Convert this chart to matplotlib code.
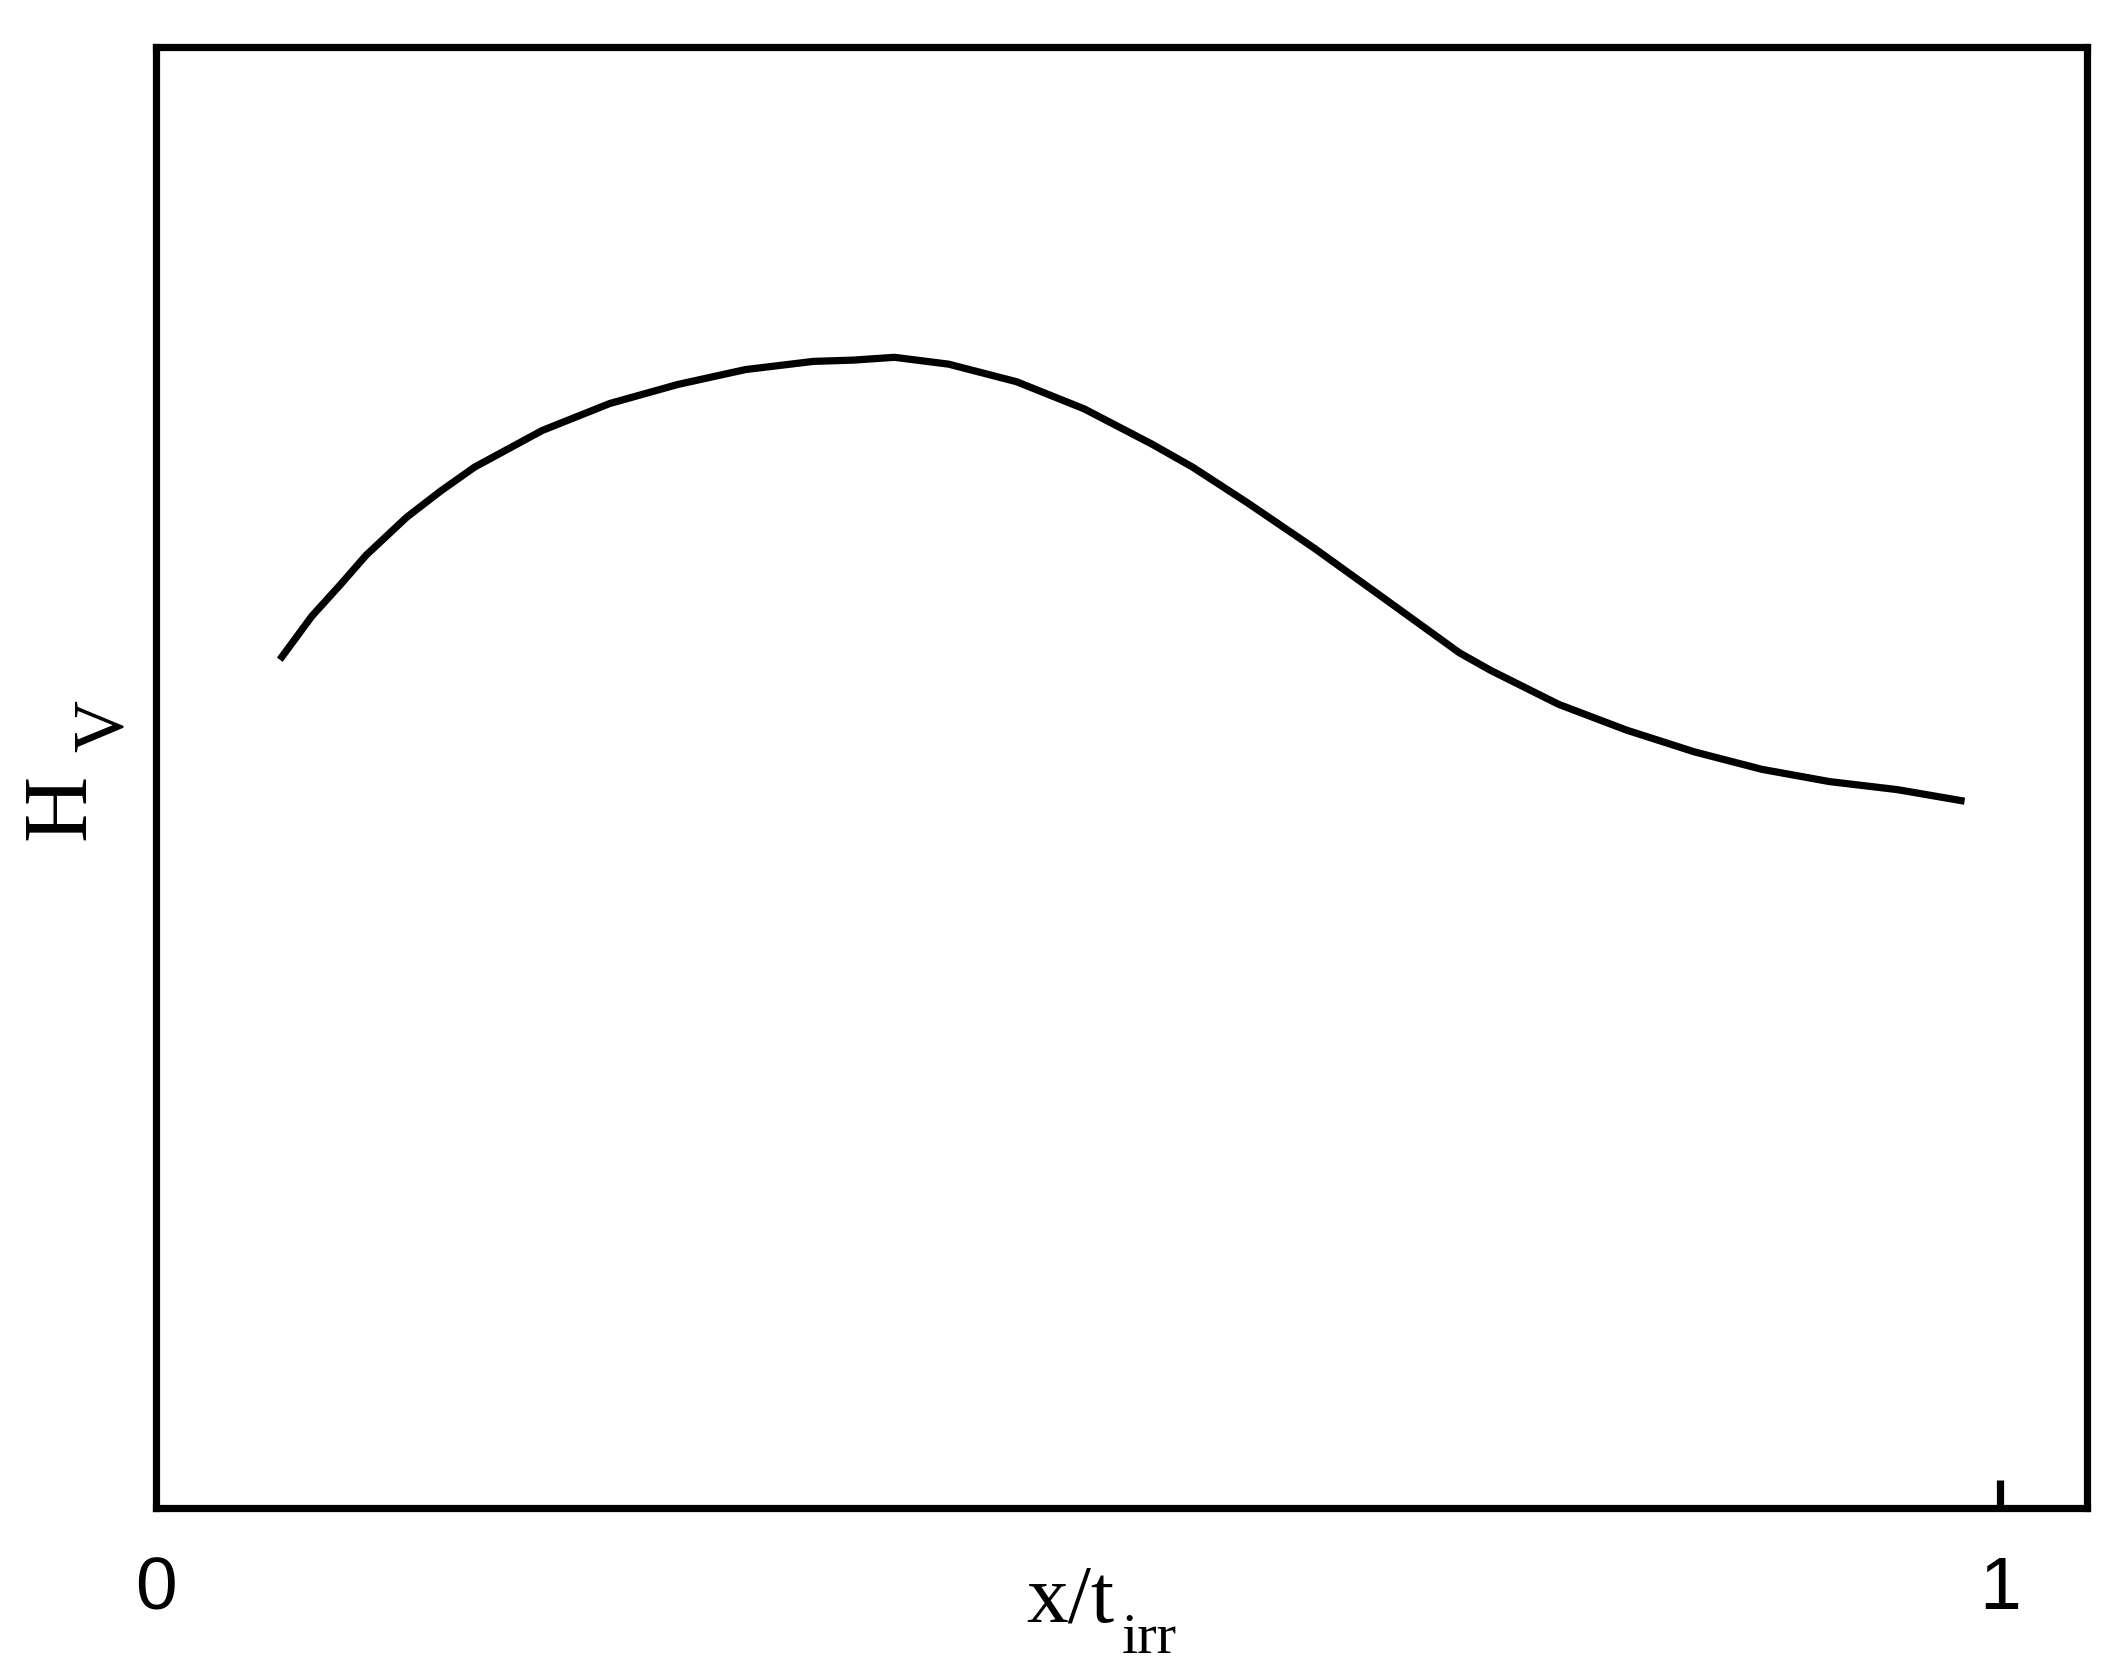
import matplotlib
matplotlib.use("Agg")
import matplotlib.pyplot as plt
from matplotlib import font_manager

# hardness profile through the irradiated thickness (arbitrary units)
xPos = [0.0683, 0.0845, 0.1000, 0.1139, 0.1359, 0.1543, 0.1727, 0.2094, 0.2461,
        0.2829, 0.3196, 0.3564, 0.3784, 0.4004, 0.4298, 0.4666, 0.5033, 0.5400,
        0.5621, 0.5915, 0.6282, 0.6650, 0.7068, 0.7237, 0.7605, 0.7972, 0.8340,
        0.8707, 0.9074, 0.9442, 0.9787]
hardness = [0.5826, 0.6104, 0.6320, 0.6521, 0.6781, 0.6960, 0.7124, 0.7375, 0.7560,
            0.7690, 0.7792, 0.7848, 0.7857, 0.7876, 0.7829, 0.7709, 0.7523, 0.7282,
            0.7124, 0.6883, 0.6568, 0.6234, 0.5853, 0.5733, 0.5501, 0.5325, 0.5176,
            0.5056, 0.4972, 0.4917, 0.4842]
xTicks = [0, 1]
xTickLabels = ["0", "1"]

names = {f.name for f in font_manager.fontManager.ttflist}
tickFont = "Liberation Sans Narrow" if "Liberation Sans Narrow" in names else "Liberation Sans"
labelFont = "Liberation Serif"

fig = plt.figure(figsize=(21.25, 16.78), dpi=100)
ax = fig.add_axes([0.0734, 0.1013, 0.9087, 0.8707])

ax.plot(xPos, hardness, color="black", linewidth=5.2, solid_joinstyle="round")

ax.set_xlim(0, 1.047)
ax.set_ylim(0, 1)
ax.set_yticks([])
ax.set_xticks(xTicks)
ax.set_xticklabels(xTickLabels, fontfamily=tickFont, fontsize=54)
ax.tick_params(axis="x", direction="in", length=20, width=5.2, pad=34)
ax.xaxis.get_major_ticks()[0].tick1line.set_visible(False)

for s in ax.spines.values():
    s.set_linewidth(5.2)

# axis labels with hand placed (low) subscripts
ax.text(0.4505, -0.0779, "x/t", transform=ax.transAxes, fontfamily=labelFont,
        fontsize=60, ha="left", va="baseline")
ax.text(0.5004, -0.0993, "irr", transform=ax.transAxes, fontfamily=labelFont,
        fontsize=42, ha="left", va="baseline")
ax.text(-0.0372, 0.457, "H", transform=ax.transAxes, fontfamily=labelFont,
        fontsize=66, rotation=90, rotation_mode="anchor", ha="left", va="baseline")
ax.text(-0.0175, 0.5176, "V", transform=ax.transAxes, fontfamily=labelFont,
        fontsize=52, rotation=90, rotation_mode="anchor", ha="left", va="baseline")

fig.savefig("out.png", dpi=100, facecolor="white")
